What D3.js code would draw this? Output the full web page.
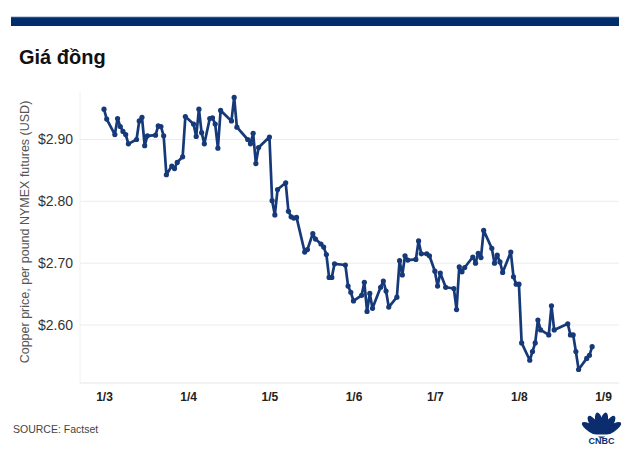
<!DOCTYPE html>
<html>
<head>
<meta charset="utf-8">
<script src="https://cdn.jsdelivr.net/npm/d3@7"></script>
<style>
  html, body { margin: 0; padding: 0; background: #fff; }
  svg { display: block; }
</style>
</head>
<body>
<svg id="chart" width="630" height="450"></svg>
<script>
// ---- data ----
const title = "Giá đồng";
const yAxisTitle = "Copper price, per pound NYMEX futures (USD)";
const source = "SOURCE: Factset";
const dates = [
  "2019-03-01","2019-03-02","2019-03-05","2019-03-06","2019-03-07","2019-03-08","2019-03-09","2019-03-10",
  "2019-03-13","2019-03-14","2019-03-15","2019-03-16","2019-03-17","2019-03-20","2019-03-21","2019-03-22",
  "2019-03-23","2019-03-24","2019-03-26","2019-03-27","2019-03-28","2019-03-30","2019-03-31",
  "2019-04-03","2019-04-04","2019-04-05","2019-04-06","2019-04-07","2019-04-09","2019-04-10","2019-04-11",
  "2019-04-12","2019-04-13","2019-04-17","2019-04-18","2019-04-19","2019-04-23","2019-04-24","2019-04-25",
  "2019-04-26","2019-04-27",
  "2019-05-01","2019-05-02","2019-05-03","2019-05-04","2019-05-07","2019-05-08","2019-05-09","2019-05-10",
  "2019-05-11","2019-05-14","2019-05-15","2019-05-17","2019-05-18","2019-05-20","2019-05-21","2019-05-22",
  "2019-05-23","2019-05-24","2019-05-25","2019-05-29","2019-05-30","2019-05-31",
  "2019-06-01","2019-06-04","2019-06-05","2019-06-06","2019-06-07","2019-06-08","2019-06-11","2019-06-12",
  "2019-06-13","2019-06-14","2019-06-17","2019-06-18","2019-06-19","2019-06-20","2019-06-21","2019-06-24",
  "2019-06-25","2019-06-26","2019-06-28","2019-06-29",
  "2019-07-01","2019-07-02","2019-07-03","2019-07-05","2019-07-08","2019-07-09","2019-07-10","2019-07-11",
  "2019-07-12","2019-07-15","2019-07-16","2019-07-17","2019-07-18","2019-07-19","2019-07-22","2019-07-23",
  "2019-07-24","2019-07-25","2019-07-26","2019-07-29","2019-07-30","2019-07-31",
  "2019-08-01","2019-08-02","2019-08-05","2019-08-06","2019-08-07","2019-08-08","2019-08-09","2019-08-12",
  "2019-08-13","2019-08-14","2019-08-19","2019-08-20","2019-08-21","2019-08-22","2019-08-23","2019-08-26",
  "2019-08-27","2019-08-28"
];
const prices = [
  2.949,2.933,2.908,2.934,2.921,2.913,2.908,2.893,
  2.900,2.930,2.936,2.890,2.906,2.907,2.922,2.921,
  2.906,2.843,2.857,2.853,2.863,2.872,2.937,
  2.925,2.905,2.949,2.911,2.893,2.934,2.935,2.925,
  2.886,2.947,2.930,2.968,2.920,2.900,2.893,2.910,
  2.861,2.887,
  2.904,2.801,2.778,2.819,2.830,2.784,2.775,2.773,
  2.774,2.718,2.722,2.748,2.739,2.731,2.726,2.714,
  2.677,2.677,2.699,2.697,2.663,2.653,
  2.639,2.648,2.669,2.622,2.651,2.627,2.661,2.671,
  2.655,2.629,2.645,2.704,2.681,2.712,2.705,2.706,
  2.736,2.715,2.715,2.712,
  2.687,2.663,2.684,2.661,2.659,2.625,2.694,2.686,
  2.693,2.710,2.700,2.716,2.709,2.753,2.724,2.700,
  2.713,2.702,2.685,2.718,2.678,2.666,
  2.666,2.571,2.543,2.557,2.571,2.608,2.592,2.584,
  2.631,2.592,2.602,2.584,2.584,2.557,2.528,2.546,
  2.551,2.565
];
const yTicks = [2.60, 2.70, 2.80, 2.90];
const xTickDates = ["2019-03-01","2019-04-01","2019-05-01","2019-06-01","2019-07-01","2019-08-01","2019-09-01"];
const xTickLabels = ["1/3","1/4","1/5","1/6","1/7","1/8","1/9"];

// ---- drawing ----
const svg = d3.select("#chart");
const parse = d3.timeParse("%Y-%m-%d");
const data = dates.map((d, i) => ({ date: parse(d), value: prices[i] }));

const plotLeft = 80, plotRight = 619, plotBottom = 383, plotTop = 92;

const x = d3.scaleTime()
  .domain([parse(xTickDates[0]), parse(xTickDates[xTickDates.length - 1])])
  .range([104, 603]);
const y = d3.scaleLinear().domain([2.60, 2.90]).range([325, 139.5]);

// top bar
svg.append("rect").attr("x", 11).attr("y", 17).attr("width", 608).attr("height", 9).attr("fill", "#022c6b");
svg.append("rect").attr("x", 11).attr("y", 16.5).attr("width", 608).attr("height", 0.8).attr("fill", "#8fa6c8");

// title
svg.append("text").attr("x", 19).attr("y", 64)
  .attr("font-family", "Liberation Sans, Arial, sans-serif")
  .attr("font-weight", "bold").attr("font-size", 20).attr("fill", "#111")
  .text(title);

// gridlines
svg.append("g").selectAll("line").data(yTicks).join("line")
  .attr("x1", plotLeft).attr("x2", plotRight)
  .attr("y1", d => y(d)).attr("y2", d => y(d))
  .attr("stroke", "#ececec").attr("stroke-width", 1);

// left and bottom axis lines
svg.append("line").attr("x1", plotLeft).attr("x2", plotLeft).attr("y1", plotTop).attr("y2", plotBottom)
  .attr("stroke", "#f0f0f0").attr("stroke-width", 1);
svg.append("line").attr("x1", plotLeft).attr("x2", plotRight).attr("y1", plotBottom).attr("y2", plotBottom)
  .attr("stroke", "#e6e6e6").attr("stroke-width", 1);

// y axis labels
const yAxis = d3.axisLeft(y).tickValues(yTicks).tickSize(0).tickPadding(0)
  .tickFormat(d => "$" + d.toFixed(2));
const gy = svg.append("g").attr("transform", "translate(73,0)").call(yAxis);
gy.select(".domain").remove();
gy.selectAll("text").attr("font-family", "Liberation Sans, Arial, sans-serif")
  .attr("font-size", 14).attr("fill", "#333");

// x axis labels
const xAxis = d3.axisBottom(x).tickValues(xTickDates.map(parse)).tickSize(0).tickPadding(0)
  .tickFormat((d, i) => xTickLabels[i]);
const gx = svg.append("g").attr("transform", "translate(0,392)").call(xAxis);
gx.select(".domain").remove();
gx.selectAll("text").attr("font-family", "Liberation Sans, Arial, sans-serif")
  .attr("font-weight", "bold").attr("font-size", 12).attr("fill", "#222");

// y axis title
svg.append("text")
  .attr("transform", "translate(29,232) rotate(-90)")
  .attr("text-anchor", "middle")
  .attr("font-family", "Liberation Sans, Arial, sans-serif")
  .attr("font-size", 12.5).attr("fill", "#555")
  .text(yAxisTitle);

// line
const lineColor = "#163979";
const line = d3.line().x(d => x(d.date)).y(d => y(d.value));
svg.append("path").datum(data).attr("d", line)
  .attr("fill", "none").attr("stroke", lineColor).attr("stroke-width", 2.7)
  .attr("stroke-linejoin", "round");
svg.append("g").selectAll("circle").data(data).join("circle")
  .attr("cx", d => x(d.date)).attr("cy", d => y(d.value)).attr("r", 2.6)
  .attr("fill", lineColor);

// source
svg.append("text").attr("x", 13).attr("y", 433)
  .attr("font-family", "Liberation Sans, Arial, sans-serif")
  .attr("font-size", 10.5).attr("fill", "#444")
  .text(source);

// CNBC logo (simplified peacock)
const logoColor = "#0b2d6e";
const logo = svg.append("g").attr("transform", "translate(601.5,435)");
const angles = [-58, -35, -11, 11, 35, 58];
logo.selectAll("ellipse").data(angles).join("ellipse")
  .attr("cx", 0).attr("cy", -12).attr("rx", 3.9).attr("ry", 11)
  .attr("transform", a => `rotate(${a},0,0)`)
  .attr("fill", logoColor);
logo.append("circle").attr("cx", 0).attr("cy", -1).attr("r", 4).attr("fill", logoColor);
logo.append("rect").attr("x", -19).attr("y", -0.5).attr("width", 38).attr("height", 2).attr("fill", "#fff");
logo.append("text").attr("x", 0).attr("y", 8.5).attr("text-anchor", "middle")
  .attr("font-family", "Liberation Sans, Arial, sans-serif")
  .attr("font-weight", "bold").attr("font-size", 9).attr("fill", logoColor)
  .text("CNBC");
</script>
</body>
</html>
